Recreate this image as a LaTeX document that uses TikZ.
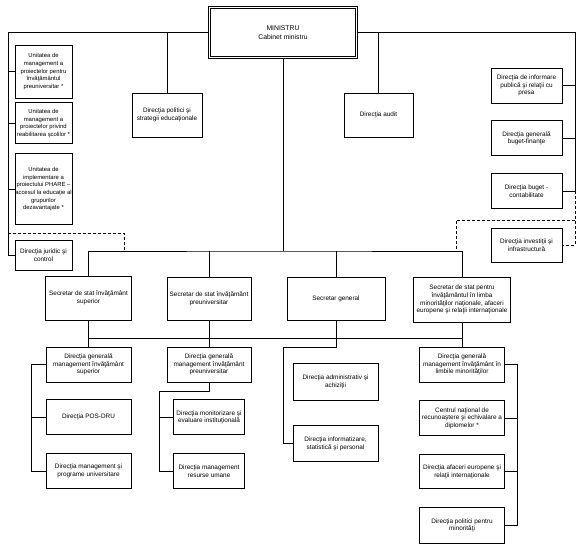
\documentclass[tikz,border=0pt]{standalone}
\usepackage{fontspec}
\setmainfont{Liberation Sans}
\usetikzlibrary{positioning}

\begin{document}
\begin{tikzpicture}[
  x=1pt, y=-1pt,
  dept/.style={rectangle, draw=black, line width=0.8pt, fill=white, align=center, inner sep=1pt, font=\fontsize{6.4}{7.8}\selectfont},
  unit/.style={dept, inner xsep=0.3pt, minimum width=57pt, font=\fontsize{5.9}{7.6}\selectfont},
  side/.style={dept, minimum width=71pt, minimum height=35pt},
  head/.style={dept, double, line width=0.7pt, double distance=1.3pt, font=\fontsize{6.8}{8.6}\selectfont},
  link/.style={draw=black, line width=0.6pt},
  dashlink/.style={link, dash pattern=on 3pt off 2pt}
]
\useasboundingbox (0,0) rectangle (582,548);

% Nodes
\node (min) [head, minimum width=147pt, minimum height=50pt] at (283,32.5) {MINISTRU\\Cabinet ministru};
\node (polstrat) [dept, minimum width=70pt, minimum height=44pt] at (167,115) {Direcţia politici şi\\strategii educaţionale};
\node (audit) [dept, minimum width=69pt, minimum height=44pt] at (378.5,115) {Direcţia audit};

\node (umip) [unit, minimum height=53pt] at (43.5,71.5) {Unitatea de\\management a\\proiectelor pentru\\învăţământul\\preuniversitar *};
\node (umrs) [unit, minimum height=41pt, below=4pt of umip] {Unitatea de\\management a\\proiectelor privind\\reabilitarea şcolilor *};
\node (uiph) [unit, minimum height=71pt, below=9pt of umrs] {Unitatea de\\implementare a\\proiectului PHARE –\\accesul la educaţie al\\grupurilor\\dezavantajate *};
\node (jurid) [unit, minimum height=30pt, font=\fontsize{6.4}{7.8}\selectfont, below=15pt of uiph] {Direcţia juridic şi\\control};

\node (infpub) [side] at (526.5,85.5) {Direcţia de informare\\publică şi relaţii cu\\presa};
\node (bugfin) [side, below=17pt of infpub] {Direcţia generală\\buget-finanţe};
\node (bugcont) [side, below=17pt of bugfin] {Direcţia buget -\\contabilitate};
\node (invest) [side, minimum height=34pt, below=19pt of bugcont] {Direcţia investiţii şi\\infrastructură};

\node (secsup) [dept, minimum width=86pt, minimum height=44pt] at (88.5,298) {Secretar de stat învăţământ\\superior};
\node (secpre) [dept, minimum width=84pt, minimum height=43pt] at (209,298.5) {Secretar de stat învăţământ\\preuniversitar};
\node (secgen) [dept, minimum width=98pt, minimum height=43pt] at (336,298.5) {Secretar general};
\node (secmin) [dept, minimum width=97pt, minimum height=45pt] at (462,299.5) {Secretar de stat pentru\\învăţământul în limba\\minorităţilor naţionale, afaceri\\europene şi relaţii internaţionale};

\node (dgsup) [dept, minimum width=85pt, minimum height=35pt] at (88.5,364.5) {Direcţia generală\\management învăţământ\\superior};
\node (posdru) [dept, minimum width=85pt, minimum height=35pt, below=17pt of dgsup] {Direcţia POS-DRU};
\node (proguni) [dept, minimum width=85pt, minimum height=35pt, below=18pt of posdru] {Direcţia management şi\\programe universitare};

\node (dgpre) [dept, minimum width=84pt, minimum height=35pt] at (209,364.5) {Direcţia generală\\management învăţământ\\preuniversitar};
\node (monit) [side, below=17pt of dgpre] {Direcţia monitorizare şi\\evaluare instituţională};
\node (resum) [side, below=18pt of monit] {Direcţia management\\resurse umane};

\node (admin) [dept, minimum width=85pt, minimum height=37pt] at (335.5,381.5) {Direcţia administrativ şi\\achiziţii};
\node (infstat) [dept, minimum width=85pt, minimum height=36pt, below=25pt of admin] {Direcţia informatizare,\\statistică şi personal};

\node (dgmin) [dept, minimum width=85pt, minimum height=35pt] at (462,364.5) {Direcţia generală\\management învăţământ în\\limbile minorităţilor};
\node (cnred) [dept, minimum width=85pt, minimum height=35pt, below=18pt of dgmin] {Centrul naţional de\\recunoaştere şi echivalare a\\diplomelor *};
\node (afeur) [dept, minimum width=85pt, minimum height=34pt, below=18pt of cnred] {Direcţia afaceri europene şi\\relaţii internaţionale};
\node (polmin) [dept, minimum width=85pt, minimum height=36pt, below=18pt of afeur] {Direcţia politici pentru\\minorităţi};

% Rails and buses
\coordinate (ltop) at (8,32.5);
\coordinate (rtop) at (575,32.5);
\coordinate (tbus) at (283,251);
\coordinate (bbus) at (283,338);
\coordinate (ldash) at (124,233);
\coordinate (rdash) at (456,220);
\coordinate (lsup) at (31,364.5);
\coordinate (lpre) at (159,391);
\coordinate (lgen) at (283,347);
\coordinate (rmin) at (517,364.5);

% Connectors
\draw [link] (min.west) -- (ltop) |- (jurid.west);
\foreach \u in {umip,umrs,uiph}
  \draw [link] (ltop |- \u.west) -- (\u.west);
\draw [link] (polstrat.north) -- (polstrat.north |- min.west);

\draw [link] (min.east) -- (rtop) |- (bugcont.east);
\foreach \u in {infpub,bugfin}
  \draw [link] (rtop |- \u.east) -- (\u.east);
\draw [dashlink] (rtop |- bugcont.east) |- (invest.east);
\draw [link] (audit.north) -- (audit.north |- min.east);

\draw [link] (min.south) -- (tbus);
\draw [link] (secsup.north) |- (tbus) -| (secmin.north);
\draw [link] (secpre.north) -- (secpre.north |- tbus);
\draw [link] (secgen.north) -- (secgen.north |- tbus);

% Dashed links to the state secretaries
\draw [dashlink] (ltop |- ldash) -- (ldash) -- (ldash |- tbus);
\draw [dashlink] (rtop |- rdash) -- (rdash) -- (rdash |- tbus);

\draw [link] (secsup.south |- bbus) -- (secmin.south |- bbus);
\draw [link] (secsup.south) -- (dgsup.north);
\draw [link] (secpre.south) -- (dgpre.north);
\draw [link] (secmin.south) -- (dgmin.north);
\draw [link] (secgen.south) |- (lgen) |- (infstat.west);

\draw [link] (dgsup.west) -- (lsup) |- (proguni.west);
\draw [link] (lsup |- posdru.west) -- (posdru.west);

\draw [link] (dgpre.south) |- (lpre) |- (resum.west);
\draw [link] (lpre |- monit.west) -- (monit.west);

\draw [link] (dgmin.east) -- (rmin) |- (polmin.east);
\foreach \u in {cnred,afeur}
  \draw [link] (rmin |- \u.east) -- (\u.east);

\end{tikzpicture}
\end{document}
